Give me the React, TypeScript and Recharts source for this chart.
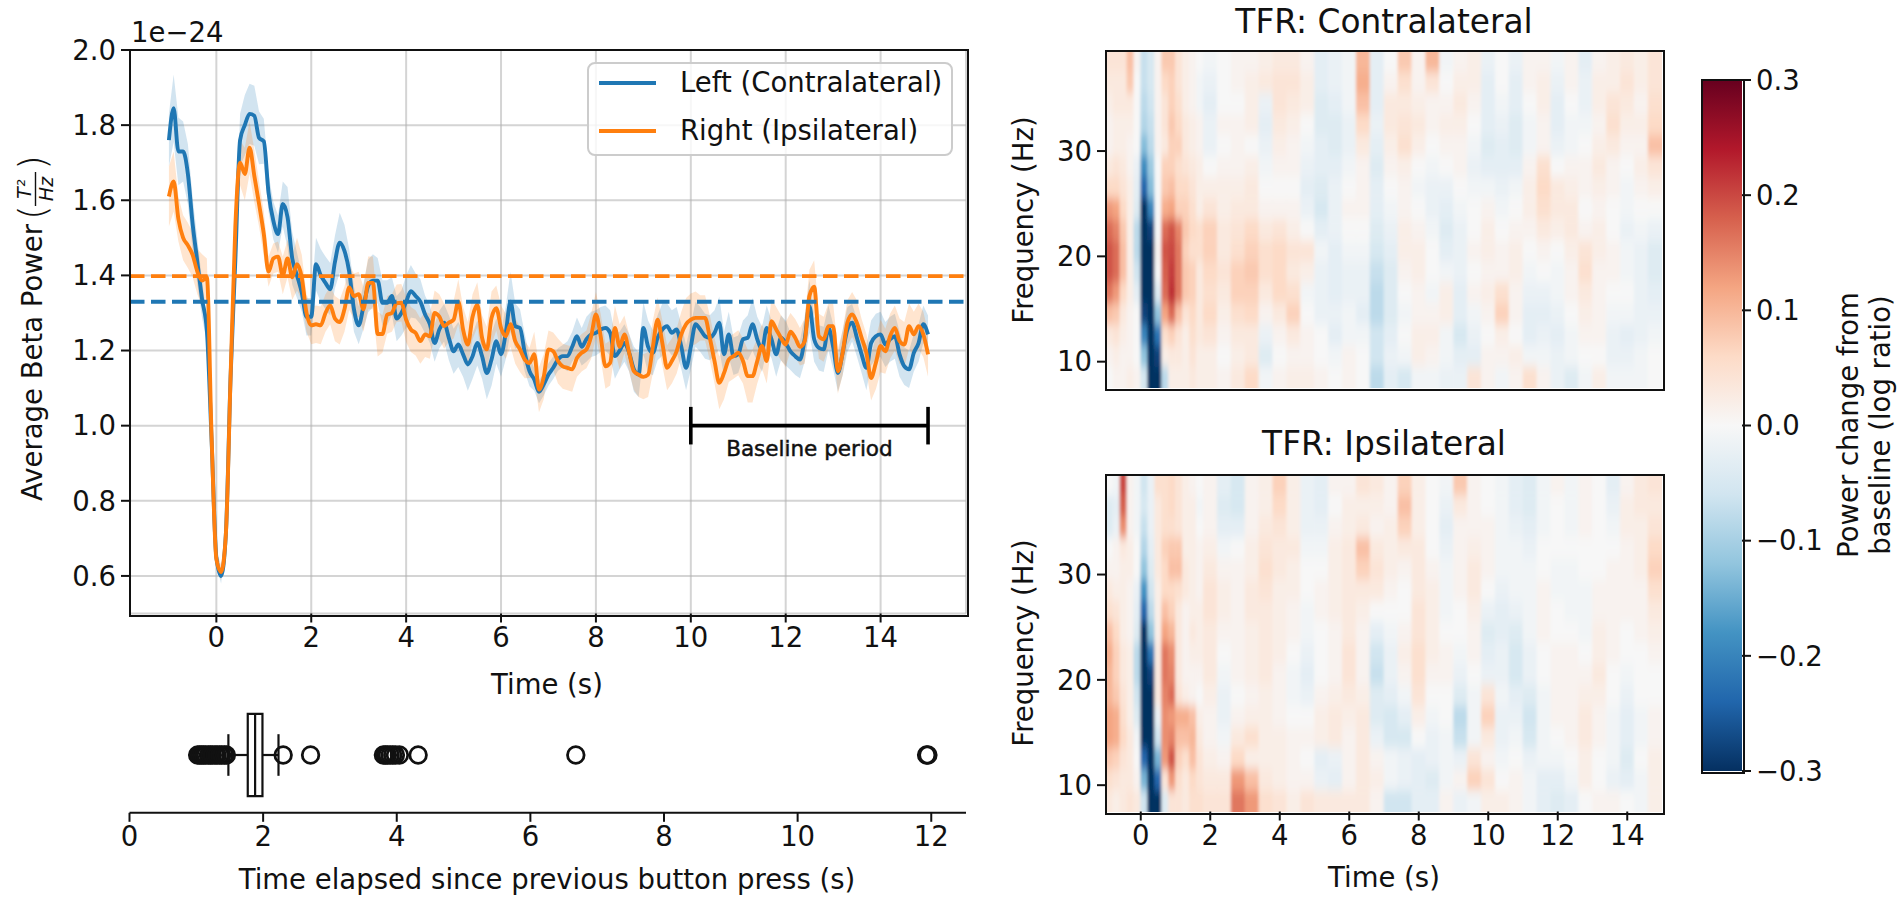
import {
  CartesianGrid, ComposedChart, Area, Line, XAxis, YAxis, ReferenceLine, ReferenceArea, ReferenceDot, ScatterChart, Scatter,
} from 'recharts';

const W = 1902;
const H = 904;
const FONT = '"DejaVu Sans"';
const BLUE = '#1f77b4';
const ORANGE = '#ff7f0e';
const INK = '#111';
const LABEL = 27.5;

// average beta power, one value every 0.1 s from -1 to 15 s (1e-24)
const leftPower = [
  1.76, 1.845, 1.73, 1.73, 1.67, 1.537, 1.436, 1.336, 1.253, 0.96,
  0.65, 0.6, 0.71, 1.13, 1.44, 1.76, 1.8, 1.83, 1.825, 1.766,
  1.757, 1.62, 1.546, 1.51, 1.59, 1.555, 1.445, 1.4, 1.354, 1.29,
  1.29, 1.43, 1.4, 1.38, 1.363, 1.436, 1.487, 1.465, 1.41, 1.31,
  1.267, 1.317, 1.372, 1.386, 1.386, 1.327, 1.327, 1.345, 1.285, 1.3,
  1.33, 1.358, 1.345, 1.33, 1.296, 1.27, 1.22, 1.256, 1.274, 1.234,
  1.198, 1.216, 1.19, 1.163, 1.185, 1.22, 1.185, 1.14, 1.176, 1.225,
  1.19, 1.247, 1.33, 1.265, 1.26, 1.194, 1.145, 1.123, 1.09, 1.11,
  1.136, 1.154, 1.176, 1.185, 1.185, 1.21, 1.238, 1.21, 1.23, 1.243,
  1.247, 1.256, 1.26, 1.247, 1.185, 1.2, 1.22, 1.194, 1.15, 1.136,
  1.26, 1.21, 1.194, 1.234, 1.256, 1.265, 1.247, 1.256, 1.21, 1.154,
  1.21, 1.27, 1.256, 1.238, 1.234, 1.247, 1.274, 1.19, 1.243, 1.185,
  1.19, 1.23, 1.234, 1.27, 1.23, 1.203, 1.26, 1.23, 1.19, 1.234,
  1.22, 1.198, 1.185, 1.176, 1.23, 1.318, 1.23, 1.207, 1.203, 1.26,
  1.21, 1.14, 1.194, 1.256, 1.274, 1.234, 1.19, 1.154, 1.22, 1.238,
  1.243, 1.216, 1.23, 1.238, 1.19, 1.158, 1.15, 1.194, 1.22, 1.27,
  1.243,
];
const rightPower = [
  1.61, 1.65, 1.55, 1.5, 1.48, 1.455, 1.41, 1.386, 1.395, 0.97,
  0.645, 0.61, 0.71, 1.13, 1.53, 1.7, 1.67, 1.74, 1.665, 1.59,
  1.51, 1.41, 1.445, 1.45, 1.4, 1.445, 1.395, 1.43, 1.395, 1.3,
  1.267, 1.27, 1.267, 1.3, 1.32, 1.285, 1.276, 1.31, 1.368, 1.345,
  1.35, 1.31, 1.38, 1.38, 1.244, 1.244, 1.295, 1.3, 1.326, 1.327,
  1.282, 1.256, 1.247, 1.225, 1.243, 1.238, 1.3, 1.29, 1.265, 1.274,
  1.282, 1.33, 1.256, 1.216, 1.29, 1.322, 1.234, 1.203, 1.287, 1.313,
  1.26, 1.238, 1.27, 1.225, 1.203, 1.176, 1.167, 1.19, 1.096, 1.13,
  1.203, 1.198, 1.172, 1.158, 1.154, 1.15, 1.18, 1.194, 1.203, 1.238,
  1.296, 1.238, 1.158, 1.167, 1.26, 1.21, 1.243, 1.194, 1.145, 1.136,
  1.13, 1.136, 1.21, 1.282, 1.22, 1.154, 1.172, 1.198, 1.243, 1.27,
  1.282, 1.287, 1.287, 1.287, 1.234, 1.172, 1.114, 1.14, 1.176, 1.185,
  1.194, 1.172, 1.132, 1.132, 1.172, 1.212, 1.172, 1.278, 1.256, 1.234,
  1.216, 1.25, 1.234, 1.21, 1.225, 1.345, 1.37, 1.238, 1.23, 1.265,
  1.265, 1.145, 1.194, 1.274, 1.296, 1.274, 1.234, 1.194, 1.127, 1.167,
  1.212, 1.198, 1.238, 1.26, 1.225, 1.216, 1.265, 1.243, 1.265, 1.243,
  1.19,
];
// half width of the shaded band, in 1e-26
const leftSpread = [
  7, 9, 9, 8, 8, 7, 6, 5, 3, 2, 2, 2, 2, 2, 4, 7, 8, 8, 8, 7, 6,
  5, 5, 5, 6, 8, 7, 6, 5, 5, 5, 7, 7, 7, 7, 7, 8, 7, 6, 6, 5,
  6, 7, 7, 6, 6, 6, 5, 6, 6, 7, 7, 6, 6, 5, 5, 5, 5, 5, 6, 6,
  6, 6, 7, 6, 6, 6, 7, 7, 6, 6, 7, 8, 6, 5, 5, 4, 3, 3, 3, 3,
  3, 3, 3, 4, 4, 5, 5, 6, 6, 6, 6, 6, 6, 6, 5, 5, 5, 6, 6, 7,
  7, 6, 6, 7, 6, 6, 6, 6, 6, 6, 6, 6, 6, 6, 6, 7, 6, 6, 5, 5,
  5, 6, 7, 6, 6, 6, 5, 6, 6, 6, 5, 5, 5, 6, 7, 6, 6, 6, 6, 6,
  5, 6, 6, 5, 5, 5, 6, 6, 6, 6, 6, 6, 6, 6, 5, 5, 5, 5, 5, 5,
];
const rightSpread = [
  8, 8, 6, 6, 6, 6, 6, 7, 5, 2, 2, 2, 2, 2, 3, 6, 7, 7, 7, 6, 6,
  4, 4, 4, 5, 5, 6, 7, 6, 5, 5, 5, 5, 5, 5, 6, 6, 6, 6, 6, 6,
  6, 7, 7, 6, 5, 5, 5, 5, 5, 6, 6, 6, 6, 6, 6, 6, 6, 6, 5, 5,
  6, 6, 6, 6, 6, 6, 6, 7, 6, 6, 6, 6, 6, 6, 5, 4, 6, 6, 6, 5,
  5, 6, 6, 6, 6, 5, 5, 5, 6, 6, 6, 6, 6, 6, 6, 5, 5, 5, 6, 6,
  6, 7, 6, 6, 6, 6, 6, 6, 7, 7, 7, 6, 6, 6, 6, 7, 7, 6, 6, 6,
  6, 7, 7, 6, 6, 6, 6, 6, 6, 6, 5, 5, 5, 6, 7, 7, 6, 6, 6, 6,
  6, 6, 6, 6, 6, 5, 5, 6, 7, 7, 6, 6, 6, 6, 6, 6, 6, 6, 6, 6,
];
const powerTicks = [0.6, 0.8, 1.0, 1.2, 1.4, 1.6, 1.8, 2.0];
const timeTicks = [0, 2, 4, 6, 8, 10, 12, 14];
const leftMean = 1.33;
const rightMean = 1.398;

// button press intervals
const flierValues = [
  1.02, 1.05, 1.08, 1.11, 1.14, 1.18, 1.21, 1.24, 1.28, 1.31, 1.35, 1.38, 1.42, 1.45,
  2.3, 2.71, 3.8, 3.83, 3.86, 3.9, 3.94, 3.98, 4.04, 4.32, 6.68, 11.93, 11.95,
];
const boxStats = { q1: 1.77, median: 1.88, q3: 1.99, lo: 1.48, hi: 2.23 };
const pressTicks = [0, 2, 4, 6, 8, 10, 12];

// heatmap grid: narrow columns around the press, wider after
const narrowCols = [-0.9, -0.7, -0.5, -0.3, -0.1, 0.1, 0.3, 0.5, 0.7, 0.9, 1.1, 1.3, 1.5, 1.7];
const wideCols = [2, 2.4, 2.8, 3.2, 3.6, 4, 4.4, 4.8, 5.2, 5.6, 6, 6.4, 6.8, 7.2, 7.6, 8, 8.4, 8.8, 9.2, 9.6, 10, 10.4, 10.8, 11.2, 11.6, 12, 12.4, 12.8, 13.2, 13.6, 14, 14.4, 14.8];
const freqRows = [38.5, 36.5, 34.5, 32.5, 30.5, 28.5, 26.5, 24.5, 22.5, 20.5, 18.5, 16.5, 14.5, 12.5, 10.5, 8.5];
const freqTicks = [10, 20, 30];

// log ratio in 0.01 units, one row per frequency
const contraTfr = [
  [4,4,4,9,1,-7,-5,1,8,8,4,2,1,0, -1,0,1,1,2,3,3,1,-3,-2,-1,10,-3,0,8,1,10,-1,1,2,-2,0,-2,1,1,-1,1,-3,1,2,3,2,4],
  [3,3,3,8,0,-7,-5,1,6,7,4,2,1,-1, -2,0,1,2,3,4,4,2,-3,-2,-1,11,-3,1,5,1,4,0,2,2,-3,0,-3,1,2,-2,1,-2,2,2,4,2,4],
  [2,3,3,3,0,-8,-6,1,4,7,5,2,1,-1, -3,0,0,2,-2,4,3,2,-4,-3,-1,9,-3,3,3,2,1,1,3,1,-3,-1,-3,0,2,-3,0,-2,2,4,3,1,5],
  [1,2,2,2,0,-9,-7,1,4,8,6,3,2,1, -2,1,1,2,-3,3,2,0,-4,-4,-2,6,-2,3,4,3,1,2,2,0,-3,-2,-4,-1,1,-3,-1,-1,1,5,2,2,6],
  [1,2,2,1,0,-13,-8,1,3,7,7,3,2,1, -2,0,1,0,-2,2,1,-1,-3,-4,-2,3,-3,2,5,2,0,1,1,-1,-4,-3,-4,-1,1,-2,-1,0,2,3,1,1,9],
  [3,4,3,1,-2,-19,-11,0,7,7,5,4,3,2, 0,1,1,2,-1,1,1,-2,-3,-3,-1,1,-4,1,2,0,-1,0,1,-2,-3,-3,-3,1,5,0,1,1,3,1,0,2,4],
  [6,6,4,2,-3,-24,-13,0,8,9,6,6,4,2, 2,2,2,3,0,0,0,-3,-4,-2,0,1,-3,0,1,-1,-2,-2,0,-1,-1,-2,-1,2,6,3,2,1,2,1,-1,1,2],
  [13,12,6,2,-4,-30,-20,0,11,12,7,7,5,2, 4,2,3,3,1,1,1,-2,-5,-2,1,1,-3,-1,1,0,-2,-3,-1,0,1,-1,0,2,5,3,3,0,1,0,-1,0,0],
  [17,15,8,2,-8,-30,-28,0,17,19,15,8,6,5, 7,3,4,6,3,4,2,0,-3,-2,0,0,-4,-2,2,1,-1,-4,-2,0,2,0,1,1,3,2,3,1,2,0,-2,-1,-2],
  [19,17,9,2,-8,-30,-30,1,19,20,16,7,5,5, 7,3,5,7,5,6,4,4,-1,-3,-1,-1,-5,-3,2,2,0,-3,-2,1,2,1,2,0,1,0,2,4,2,1,-1,-2,-4],
  [19,17,9,2,-6,-30,-30,0,18,21,16,8,7,3, 6,4,7,8,5,6,3,2,-2,-3,-2,-2,-7,-4,1,2,0,-1,-2,0,1,1,2,-1,0,-1,1,5,1,1,-1,-2,-4],
  [16,13,6,2,-3,-30,-30,-4,17,22,16,8,7,3, 5,3,7,7,3,6,5,-1,-2,-3,-2,-2,-8,-4,0,1,-1,2,-3,1,2,5,1,-2,-2,-1,1,3,1,0,0,-2,-3],
  [9,8,3,1,0,-28,-30,-12,12,17,9,4,6,3, 6,2,5,6,1,3,7,0,-2,-2,-1,-3,-8,-4,-1,1,1,2,-3,-1,1,7,1,-3,-3,-2,0,2,1,-1,-1,-2,-2],
  [3,4,2,1,0,-20,-30,-22,5,7,4,2,5,3, 4,1,3,3,-2,1,3,1,0,-3,-1,-1,-6,-3,0,2,2,-1,-5,-2,0,2,0,-3,-2,-3,-1,1,1,-2,-3,-2,-1],
  [1,2,1,1,0,-12,-30,-28,2,3,3,2,4,2, 2,0,2,3,-4,0,1,1,0,-1,1,0,-6,-2,-1,2,1,-1,-3,-3,1,1,2,-1,-1,-2,-1,0,0,-2,-2,-1,0],
  [0,1,1,2,1,-5,-30,-30,-8,2,2,2,3,2, 2,1,3,6,-1,1,2,2,1,0,1,0,-8,-3,-5,-1,-1,-2,-2,4,1,-1,1,5,1,-2,-4,-1,2,-1,-1,-1,0],
];
const ipsiTfr = [
  [0,-1,20,1,-1,-6,-2,5,5,6,4,2,1,0, 1,-3,-5,1,2,7,2,-2,-3,1,1,4,3,1,7,2,0,-1,8,1,0,-1,-3,-4,-1,1,-1,1,0,-3,1,3,4],
  [-4,-3,18,1,-1,-5,-2,3,5,6,4,2,2,-1, 1,-4,-5,1,2,6,2,-2,-3,0,2,2,2,1,9,2,0,-2,3,1,0,-1,-3,-4,-1,0,-1,1,0,-2,2,3,3],
  [-4,-2,14,1,-1,-7,-2,3,5,5,4,2,2,0, 1,-3,-3,1,3,4,2,-2,-2,1,2,3,1,2,7,2,0,-3,1,1,1,-1,-2,-3,-1,0,-1,1,0,-1,2,2,4],
  [0,1,3,2,0,-9,-3,3,7,8,8,2,2,1, 2,-1,0,2,4,3,3,-1,-1,2,3,9,3,2,3,3,0,-2,1,2,1,-1,-1,-2,0,0,0,0,0,0,1,2,6],
  [1,1,2,2,0,-12,-4,3,6,9,9,3,2,1, 3,1,1,2,5,3,2,0,0,2,3,7,4,2,1,3,1,-1,1,3,1,-1,-1,-1,0,-1,-1,0,0,1,1,2,7],
  [3,2,2,1,-2,-18,-6,2,6,6,5,3,2,1, 4,2,1,3,4,2,2,0,1,2,3,3,3,1,0,3,2,-1,1,3,0,-2,-1,-1,1,-1,-1,-1,1,1,1,1,5],
  [5,4,2,1,-3,-24,-8,2,9,7,3,1,2,2, 4,2,1,3,3,2,1,-1,1,2,3,2,0,0,0,4,2,-1,0,2,-2,-3,-2,-1,1,0,-1,-1,1,1,1,1,3],
  [9,6,2,1,-4,-30,-12,2,12,10,3,1,3,2, 3,1,1,2,3,2,1,-1,0,1,3,1,-3,-1,1,4,2,0,0,1,-4,-3,-4,-1,1,0,0,-1,2,1,0,1,2],
  [11,7,3,2,-8,-30,-22,3,16,14,3,1,2,2, 3,0,1,2,3,2,0,-2,0,1,4,1,-6,-2,2,5,2,1,-1,1,-3,-2,-5,-2,0,1,1,0,2,1,0,0,1],
  [10,7,3,2,-8,-30,-28,3,16,15,3,1,1,1, 3,-1,1,2,3,1,-1,-3,0,1,4,1,-7,-2,1,5,1,1,-2,0,-2,-2,-5,-2,0,1,1,1,3,0,-1,0,0],
  [10,8,4,2,-6,-30,-30,3,15,17,4,2,1,0, 2,-2,0,1,2,1,-1,-2,1,2,3,2,-4,-3,-1,4,0,0,-4,-1,4,-1,-3,-4,-1,1,1,2,2,0,-2,0,0],
  [12,11,5,2,-4,-30,-30,-2,14,13,11,11,9,2, 1,-2,1,2,2,1,0,0,2,3,2,3,-4,-5,-3,2,-1,0,-8,-1,7,-2,-2,-6,-1,1,1,3,1,-1,-3,-1,1],
  [12,11,6,3,-1,-30,-30,-6,14,15,9,9,10,3, 1,-1,3,5,2,2,1,1,2,3,1,3,-2,-5,-5,0,-2,-1,-7,-1,3,-2,-1,-5,-1,0,1,3,1,-1,-3,-1,1],
  [8,7,4,3,0,-24,-30,-14,13,19,7,5,9,4, 2,1,6,2,2,2,1,0,-3,-2,1,3,1,-1,-2,-3,-2,-1,-2,4,1,-1,0,-2,-1,-1,0,2,0,-1,-4,0,2],
  [5,4,3,3,1,-14,-30,-24,4,13,5,3,6,4, 3,3,13,9,3,2,1,1,-2,-3,1,3,2,-1,-2,-3,-4,-1,1,7,4,0,1,-1,-3,-3,-1,2,0,-2,-3,-1,2],
  [3,2,3,4,3,-6,-30,-30,-4,4,4,3,5,5, 4,4,16,13,5,4,2,4,3,3,3,3,1,-6,-6,-3,-3,1,-2,-1,2,2,1,-1,-3,-4,-3,0,1,1,0,-1,2],
];

// RdBu_r
const rdbu = ['#053061', '#2166ac', '#4393c3', '#92c5de', '#d1e5f0', '#f7f7f7', '#fddbc7', '#f4a582', '#d6604d', '#b2182b', '#67001f'];
const colorbarTicks = [-0.3, -0.2, -0.1, 0, 0.1, 0.2, 0.3];

function hex(c: string) {
  return [1, 3, 5].map((i) => parseInt(c.slice(i, i + 2), 16));
}

function tfrColor(v: number) {
  const p = Math.max(0, Math.min(0.9999, (v + 30) / 60)) * 10;
  const i = Math.floor(p);
  const a = hex(rdbu[i]);
  const b = hex(rdbu[i + 1]);
  const c = a.map((x, k) => Math.round(x + (b[k] - x) * (p - i)));
  return `rgb(${c[0]},${c[1]},${c[2]})`;
}

const powerData = leftPower.map((v, i) => ({
  t: Math.round(i - 10) / 10,
  left: v,
  right: rightPower[i],
  leftBand: [v - leftSpread[i] / 100, v + leftSpread[i] / 100],
  rightBand: [rightPower[i] - rightSpread[i] / 100, rightPower[i] + rightSpread[i] / 100],
}));

const flierData = flierValues.map((x) => ({ x, y: 1 }));

function tfrCells(matrix: number[][]) {
  const cols = [...narrowCols.map((t) => ({ t, w: 0.2 })), ...wideCols.map((t) => ({ t, w: 0.4 }))];
  return matrix.flatMap((row, r) => row.map((v, c) => ({ t: cols[c].t, w: cols[c].w, f: freqRows[r], v })));
}

const tickStyle = { fontSize: LABEL, fill: INK, fontFamily: FONT };
const tickLine = { stroke: INK, strokeWidth: 2 };

// plot area edges, in page pixels
const mainBox = { l: 130, r: 966, t: 50, b: 613.5 };
const pressBox = { l: 129.5, r: 966, t: 697.2, b: 812.8 };
const tfrX = { l: 1106, r: 1662 };
const contraY = { t: 51, b: 388 };
const ipsiY = { t: 474.5, b: 811.5 };
const barBox = { l: 1702, r: 1742, t: 80, b: 771 };

const layer: React.CSSProperties = { position: 'absolute', left: 0, top: 0 };

function Frame({ l, r, t, b }: { l: number; r: number; t: number; b: number }) {
  return (
    <div style={{ position: 'absolute', left: l - 1, top: t - 1, width: r - l, height: b - t, border: `2px solid ${INK}`, pointerEvents: 'none' }} />
  );
}

// outer cells run past the plot edge so the softening does not fade there
function CellShape(props: any) {
  const { cx, cy, payload, pxPerSec, rowPx } = props;
  const w = payload.w * pxPerSec;
  const pad = 20;
  const left = payload.t === narrowCols[0] ? pad : 0;
  const right = payload.t === wideCols[wideCols.length - 1] ? pad : 0;
  const up = payload.f === freqRows[0] ? pad : 0;
  const down = payload.f === freqRows[freqRows.length - 1] ? pad : 0;
  return (
    <rect
      x={cx - w / 2 - 0.3 - left} y={cy - rowPx / 2 - 0.3 - up}
      width={w + 0.6 + left + right} height={rowPx + 0.6 + up + down}
      fill={tfrColor(payload.v)}
    />
  );
}

function FlierShape(props: any) {
  return <circle cx={props.cx} cy={props.cy} r={8.3} fill="none" stroke={INK} strokeWidth={2.8} />;
}

function TfrPanel({ matrix, y, showTime }: { matrix: number[][]; y: { t: number; b: number }; showTime: boolean }) {
  const pxPerSec = (tfrX.r - tfrX.l) / 16;
  const rowPx = ((y.b - y.t) / 32) * 2;
  const axisH = showTime ? 30 : 0;
  return (
    <div style={layer}>
      <div style={{ position: 'absolute', left: tfrX.l, top: y.t, width: tfrX.r - tfrX.l, height: y.b - y.t, overflow: 'hidden' }}>
        <div style={{ position: 'absolute', left: -tfrX.l, top: -y.t, width: W, height: H, filter: 'url(#soft)' }}>
          <ScatterChart width={W} height={H} margin={{ top: y.t, left: tfrX.l, right: W - tfrX.r, bottom: H - y.b }}>
            <XAxis type="number" dataKey="t" domain={[-1, 15]} hide />
            <YAxis type="number" dataKey="f" domain={[7.5, 39.5]} hide />
            <Scatter
              data={tfrCells(matrix)}
              isAnimationActive={false}
              shape={(p: any) => <CellShape {...p} pxPerSec={pxPerSec} rowPx={rowPx} />}
            />
          </ScatterChart>
        </div>
      </div>
      <div style={layer}>
        <ScatterChart width={W} height={H} margin={{ top: y.t, left: tfrX.l - 70, right: W - tfrX.r, bottom: H - y.b - axisH }}>
          <XAxis
            type="number" dataKey="t" domain={[-1, 15]} ticks={timeTicks} hide={!showTime} height={axisH}
            tick={tickStyle} tickLine={tickLine} tickSize={9} tickMargin={5} axisLine={false} interval={0}
          />
          <YAxis
            type="number" dataKey="f" domain={[7.5, 39.5]} ticks={freqTicks} width={70}
            tick={tickStyle} tickLine={tickLine} tickSize={9} tickMargin={5} axisLine={false} interval={0}
          />
          <Scatter data={[{ t: 0, f: 20 }]} isAnimationActive={false} shape={() => <g />} />
        </ScatterChart>
      </div>
      <Frame l={tfrX.l} r={tfrX.r} t={y.t} b={y.b} />
    </div>
  );
}

function PowerPanel() {
  return (
    <div style={layer}>
      <ComposedChart
        width={W} height={H} data={powerData}
        margin={{ top: mainBox.t, left: mainBox.l - 70, right: W - mainBox.r, bottom: H - mainBox.b - 30 }}
      >
        <CartesianGrid stroke="#b0b0b0" strokeOpacity={0.55} strokeWidth={2} />
        <XAxis
          type="number" dataKey="t" domain={[-1.82, 15.8]} ticks={timeTicks} height={30} interval={0}
          tick={tickStyle} tickLine={tickLine} tickSize={9} tickMargin={5} axisLine={false} allowDataOverflow
        />
        <YAxis
          type="number" domain={[0.5, 2]} ticks={powerTicks} width={70} interval={0}
          tick={tickStyle} tickLine={tickLine} tickSize={9} tickMargin={5} axisLine={false} allowDataOverflow
          tickFormatter={(v: number) => v.toFixed(1)}
        />
        <Area dataKey="leftBand" stroke="none" fill={BLUE} fillOpacity={0.2} isAnimationActive={false} dot={false} activeDot={false} />
        <Area dataKey="rightBand" stroke="none" fill={ORANGE} fillOpacity={0.2} isAnimationActive={false} dot={false} activeDot={false} />
        <Line dataKey="left" type="monotone" stroke={BLUE} strokeWidth={3.9} dot={false} activeDot={false} isAnimationActive={false} />
        <Line dataKey="right" type="monotone" stroke={ORANGE} strokeWidth={3.9} dot={false} activeDot={false} isAnimationActive={false} />
        <ReferenceLine y={rightMean} stroke={ORANGE} strokeWidth={3.9} strokeDasharray="14.5 6.5" />
        <ReferenceLine y={leftMean} stroke={BLUE} strokeWidth={3.9} strokeDasharray="14.5 6.5" />
        <ReferenceLine segment={[{ x: 10, y: 1 }, { x: 15, y: 1 }]} stroke="#000" strokeWidth={3.6} />
        <ReferenceLine segment={[{ x: 10, y: 0.95 }, { x: 10, y: 1.05 }]} stroke="#000" strokeWidth={3.6} />
        <ReferenceLine segment={[{ x: 15, y: 0.95 }, { x: 15, y: 1.05 }]} stroke="#000" strokeWidth={3.6} />
        <ReferenceDot
          x={12.5} y={0.939} r={0} stroke="none" fill="none"
          label={{ value: 'Baseline period', position: 'center', fontSize: 21.5, fontFamily: FONT, fill: INK, stroke: INK, strokeWidth: 0.5 }}
        />
      </ComposedChart>
      <Frame {...mainBox} />
    </div>
  );
}

function PressPanel() {
  return (
    <div style={layer}>
      <ScatterChart
        width={W} height={H}
        margin={{ top: pressBox.t, left: pressBox.l, right: W - pressBox.r, bottom: H - pressBox.b - 30 }}
      >
        <XAxis
          type="number" dataKey="x" domain={[0, 12.52]} ticks={pressTicks} height={30} interval={0}
          tick={tickStyle} tickLine={tickLine} tickSize={9} tickMargin={5}
          axisLine={{ stroke: INK, strokeWidth: 2 }} allowDataOverflow
        />
        <YAxis type="number" dataKey="y" domain={[0.5, 1.5]} hide />
        <ReferenceLine segment={[{ x: boxStats.lo, y: 1 }, { x: boxStats.q1, y: 1 }]} stroke={INK} strokeWidth={2.2} />
        <ReferenceLine segment={[{ x: boxStats.q3, y: 1 }, { x: boxStats.hi, y: 1 }]} stroke={INK} strokeWidth={2.2} />
        <ReferenceLine segment={[{ x: boxStats.lo, y: 0.82 }, { x: boxStats.lo, y: 1.18 }]} stroke={INK} strokeWidth={2.2} />
        <ReferenceLine segment={[{ x: boxStats.hi, y: 0.82 }, { x: boxStats.hi, y: 1.18 }]} stroke={INK} strokeWidth={2.2} />
        <ReferenceArea x1={boxStats.q1} x2={boxStats.q3} y1={0.645} y2={1.355} fill="#fff" fillOpacity={1} stroke={INK} strokeWidth={2.2} />
        <ReferenceLine segment={[{ x: boxStats.median, y: 0.645 }, { x: boxStats.median, y: 1.355 }]} stroke={INK} strokeWidth={2.2} />
        <Scatter data={flierData} isAnimationActive={false} shape={FlierShape} />
      </ScatterChart>
    </div>
  );
}

function ColorbarPanel() {
  return (
    <div style={layer}>
      <div style={{ position: 'absolute', left: barBox.l, top: barBox.b - 10, width: barBox.r - barBox.l, height: 10, background: rdbu[0] }} />
      <ComposedChart
        width={W} height={H} data={colorbarTicks.map((v) => ({ v }))}
        margin={{ top: barBox.t, left: barBox.l, right: W - barBox.r - 110, bottom: H - barBox.b }}
      >
        <defs>
          <linearGradient id="rdbu" x1="0" y1="1" x2="0" y2="0">
            {rdbu.map((c, i) => <stop key={c} offset={`${i * 10}%`} stopColor={c} />)}
          </linearGradient>
        </defs>
        <YAxis
          orientation="right" type="number" domain={[-0.3, 0.3]} ticks={colorbarTicks} width={110} interval={0}
          tick={tickStyle} tickLine={tickLine} tickSize={9} tickMargin={5} axisLine={false} allowDataOverflow
          tickFormatter={(v: number) => v.toFixed(1).replace('-', '\u2212')}
        />
        <ReferenceArea y1={-0.3} y2={0.3} fill="url(#rdbu)" fillOpacity={1} stroke="none" />
      </ComposedChart>
      <Frame {...barBox} />
    </div>
  );
}

function Txt({ x, y, size = LABEL, rot, children, anchor = 'middle' }: any) {
  return (
    <text
      x={rot ? 0 : x} y={rot ? 0 : y} fontSize={size} fontFamily={FONT} fill={INK} textAnchor={anchor}
      transform={rot ? `translate(${x},${y}) rotate(${rot})` : undefined}
    >
      {children}
    </text>
  );
}

function Labels() {
  return (
    <svg width={W} height={H} style={{ ...layer, pointerEvents: 'none' }}>
      <defs>
        <filter id="soft" x="0" y="0" width="100%" height="100%">
          <feGaussianBlur stdDeviation="1.6 5.5" />
        </filter>
      </defs>
      <Txt x={131} y={42} anchor="start">1e−24</Txt>
      <Txt x={547} y={694}>Time (s)</Txt>
      <Txt x={547} y={889}>Time elapsed since previous button press (s)</Txt>
      <Txt x={1384} y={33} size={32.8}>TFR: Contralateral</Txt>
      <Txt x={1384} y={455} size={32.8}>TFR: Ipsilateral</Txt>
      <Txt x={1033} y={220} rot={-90}>Frequency (Hz)</Txt>
      <Txt x={1033} y={643} rot={-90}>Frequency (Hz)</Txt>
      <Txt x={1384} y={887}>Time (s)</Txt>
      <Txt x={1858} y={425} rot={-90}>Power change from</Txt>
      <Txt x={1890} y={425} rot={-90}>baseline (log ratio)</Txt>
      {/* axis label with the small fraction */}
      <g transform="translate(42,501) rotate(-90)" fontFamily={FONT} fill={INK}>
        <text x={0} y={0} fontSize={LABEL}>Average Beta Power</text>
        <text x={281} y={3} fontSize={38} fontWeight={200}>(</text>
        <text x={312} y={-11} fontSize={19} textAnchor="middle" fontStyle="italic">T²</text>
        <line x1={295} x2={329} y1={-6.5} y2={-6.5} stroke={INK} strokeWidth={1.4} />
        <text x={312} y={11} fontSize={19} textAnchor="middle" fontStyle="italic">Hz</text>
        <text x={331} y={3} fontSize={38} fontWeight={200}>)</text>
      </g>
    </svg>
  );
}

function LegendBox() {
  const rows = [
    { name: 'Left (Contralateral)', color: BLUE, y: 83 },
    { name: 'Right (Ipsilateral)', color: ORANGE, y: 131 },
  ];
  return (
    <svg width={W} height={H} style={{ ...layer, pointerEvents: 'none' }}>
      <rect x={588} y={63} width={364} height={92} rx={7} fill="#fff" fillOpacity={0.8} stroke="#ccc" strokeWidth={2} />
      {rows.map((r) => (
        <g key={r.name}>
          <line x1={599} x2={656} y1={r.y} y2={r.y} stroke={r.color} strokeWidth={3.9} />
          <text x={680} y={r.y + 9} fontSize={LABEL} fontFamily={FONT} fill={INK}>{r.name}</text>
        </g>
      ))}
    </svg>
  );
}

export default function App() {
  return (
    <div style={{ position: 'absolute', left: 0, top: 0, width: W, height: H, overflow: 'hidden', background: '#fff' }}>
      <PowerPanel />
      <LegendBox />
      <PressPanel />
      <TfrPanel matrix={contraTfr} y={contraY} showTime={false} />
      <TfrPanel matrix={ipsiTfr} y={ipsiY} showTime />
      <ColorbarPanel />
      <Labels />
    </div>
  );
}
